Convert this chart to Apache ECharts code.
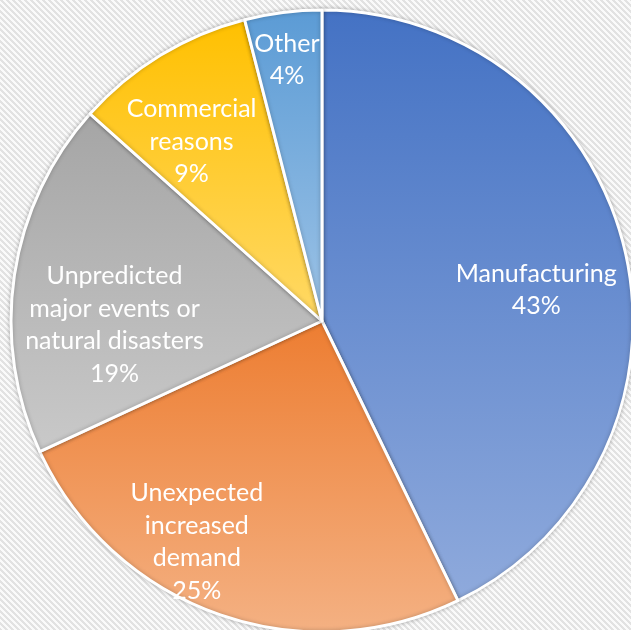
<!DOCTYPE html>
<html>
<head>
<meta charset="utf-8">
<script src="https://cdn.jsdelivr.net/npm/echarts@6/dist/echarts.min.js"></script>
<style>
html,body{margin:0;padding:0;background:#fff;}
#chart{width:631px;height:630px;}
</style>
</head>
<body>
<div id="chart"></div>
<script>
const categories = ['Manufacturing', 'Unexpected\nincreased\ndemand', 'Unpredicted\nmajor events or\nnatural disasters', 'Commercial\nreasons', 'Other'];
const values = [42.8, 25.3, 18.5, 9.4, 4.0];
const colorTop = ['#4472C4', '#ED7D31', '#A5A5A5', '#FFC000', '#5B9BD5'];
const colorBottom = ['#8FAADC', '#F4B183', '#C9C9C9', '#FFD966', '#9DC3E6'];
const labelNudge = [[-4, 19], [-50, 10], [14, 37], [-14, 12], [-7, -39]];

function stripes() {
  const c = document.createElement('canvas');
  c.width = 6; c.height = 6;
  const ctx = c.getContext('2d');
  const img = ctx.createImageData(6, 6);
  for (let y = 0; y < 6; y++) {
    for (let x = 0; x < 6; x++) {
      const g = ((x - y + 6) % 6) < 3 ? 226 : 250;
      const i = (y * 6 + x) * 4;
      img.data[i] = g; img.data[i+1] = g; img.data[i+2] = g; img.data[i+3] = 255;
    }
  }
  ctx.putImageData(img, 0, 0);
  return c;
}

const chart = echarts.init(document.getElementById('chart'));
const R = 311;
const center = [322, 321];
const pieData = categories.map((n, i) => ({
  name: n, value: values[i],
  itemStyle: {
    color: new echarts.graphic.LinearGradient(0, 0, 0, 1, [
      {offset: 0, color: colorTop[i]}, {offset: 1, color: colorBottom[i]}
    ])
  }
}));
chart.setOption({
  backgroundColor: {image: stripes(), repeat: 'repeat'},
  animation: false,
  series: [
    {
      type: 'pie',
      center: center,
      radius: [0, R],
      startAngle: 90,
      clockwise: true,
      silent: true,
      label: {show: false},
      labelLine: {show: false},
      itemStyle: {borderColor: '#fff', borderWidth: 3, shadowBlur: 4, shadowColor: 'rgba(0,0,0,0.25)'},
      data: pieData
    },
    {
      type: 'pie',
      center: center,
      radius: [0, 2 * 0.72 * R - 6],
      startAngle: 90,
      clockwise: true,
      silent: true,
      itemStyle: {color: 'rgba(0,0,0,0)'},
      labelLine: {show: false},
      label: {
        show: true,
        position: 'inside',
        color: '#fff',
        fontFamily: 'Lato',
        fontSize: 25,
        lineHeight: 32.5,
        align: 'center',
        formatter: p => p.name + '\n' + Math.round(p.value) + '%'
      },
      labelLayout: p => ({dx: labelNudge[p.dataIndex][0], dy: labelNudge[p.dataIndex][1]}),
      data: categories.map((n, i) => ({name: n, value: values[i]}))
    }
  ]
});
</script>
</body>
</html>
